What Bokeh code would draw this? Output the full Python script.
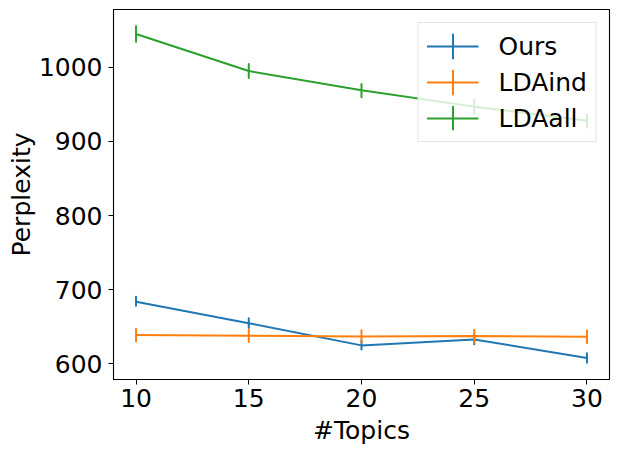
from bokeh.plotting import figure
from bokeh.models import Range1d, FixedTicker, Legend, LegendItem
from bokeh.embed import file_html
from bokeh.resources import INLINE

topics = [10, 15, 20, 25, 30]
ours = [684, 655, 625, 633, 608]
ours_err = [6.5, 6.5, 6.5, 6.5, 6.5]
ldaind = [639, 638, 637, 637.5, 636.5]
ldaind_err = [8.5, 8.5, 8.5, 8.5, 8.5]
ldaall = [1045, 995, 969, 947, 928]
ldaall_err = [10.5, 9.5, 9.5, 9.5, 9.5]
y_ticks = [600, 700, 800, 900, 1000]

series = [
    ("Ours", ours, ours_err, "#1f77b4"),
    ("LDAind", ldaind, ldaind_err, "#ff7f0e"),
    ("LDAall", ldaall, ldaall_err, "#2ca02c"),
]

FONT = "DejaVu Sans"
FS = "25px"

p = figure(width=618, height=452, output_backend="svg", toolbar_location=None,
           x_range=Range1d(9, 31), y_range=Range1d(579, 1078),
           min_border_left=113, min_border_right=9, min_border_top=9, min_border_bottom=73)

p.xgrid.visible = False
p.ygrid.visible = False
p.outline_line_color = "black"
p.outline_line_width = 1.1
p.background_fill_color = "white"
p.border_fill_color = "white"

items = []
for name, vals, errs, col in series:
    ln = p.line(topics, vals, line_color=col, line_width=2)
    eb = p.ellipse(topics, vals, width=0.01, height=[2 * e for e in errs],
                   width_units="screen", height_units="data",
                   fill_color=None, line_color=col, line_width=2)
    items.append(LegendItem(label=name, renderers=[ln, eb]))

legend = Legend(items=items, location="top_right", margin=13, padding=8,
                spacing=6, glyph_width=52, glyph_height=30, label_standoff=20,
                label_text_font=FONT, label_text_font_size=FS, label_text_color="black",
                border_line_color="#cccccc", border_line_width=1,
                background_fill_color="white", background_fill_alpha=0.8)
p.add_layout(legend)

p.xaxis.ticker = FixedTicker(ticks=topics)
p.yaxis.ticker = FixedTicker(ticks=y_ticks)
p.xaxis.axis_label = "#Topics"
p.yaxis.axis_label = "Perplexity"
for ax in (p.xaxis[0], p.yaxis[0]):
    ax.axis_line_color = "black"
    ax.major_tick_line_color = "black"
    ax.major_tick_out = 5
    ax.major_tick_in = 0
    ax.minor_tick_out = 0
    ax.minor_tick_in = 0
    ax.major_label_text_font = FONT
    ax.major_label_text_font_size = FS
    ax.major_label_text_color = "black"
    ax.axis_label_text_font = FONT
    ax.axis_label_text_font_size = FS
    ax.axis_label_text_font_style = "normal"
    ax.axis_label_text_color = "black"
p.xaxis[0].major_label_standoff = 4
p.xaxis[0].axis_label_standoff = 6
p.yaxis[0].major_label_standoff = 6
p.yaxis[0].axis_label_standoff = 0

open("out.html", "w").write(file_html(p, INLINE))
